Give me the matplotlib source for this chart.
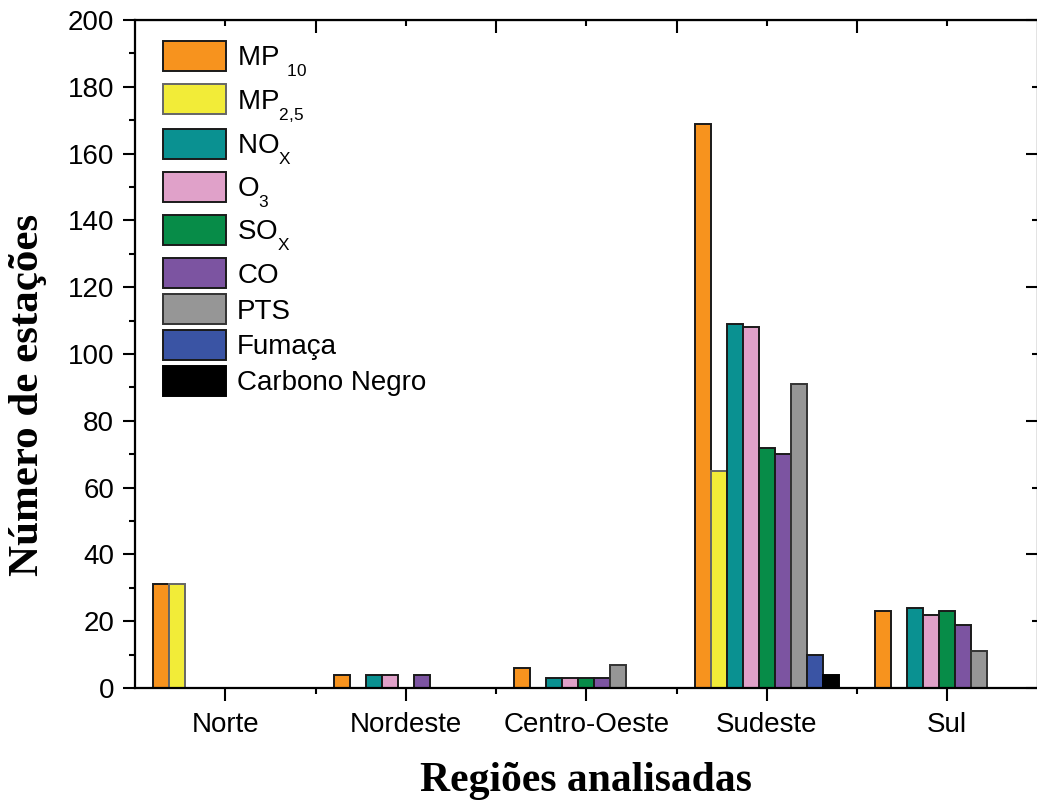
import matplotlib
matplotlib.use("Agg")
import matplotlib.pyplot as plt
import numpy as np
from matplotlib.ticker import FixedLocator, MultipleLocator

# lower, smaller subscripts (closer to the reference legend look)
try:
    import matplotlib._mathtext as _mt
    _mt.FontConstantsBase.sub1 = 0.75
    _mt.SHRINK_FACTOR = 0.62
except Exception:
    pass

plt.rcParams['font.family'] = ['Liberation Sans', 'DejaVu Sans']
plt.rcParams['mathtext.fontset'] = 'custom'
plt.rcParams['mathtext.rm'] = 'Liberation Sans'
plt.rcParams['mathtext.it'] = 'Liberation Sans:italic'
plt.rcParams['mathtext.bf'] = 'Liberation Sans:bold'

regions = ['Norte', 'Nordeste', 'Centro-Oeste', 'Sudeste', 'Sul']
series_names = [r'MP $\mathregular{_{10}}$', r'MP$\mathregular{_{2{,}5}}$', r'NO$\mathregular{_X}$',
                r'O$\mathregular{_3}$', r'SO$\mathregular{_X}$', 'CO', 'PTS', 'Fumaça', 'Carbono Negro']

mp10 = [31, 4, 6, 169, 23]
mp25 = [31, 0, 0, 65, 0]
nox = [0, 4, 3, 109, 24]
o3 = [0, 4, 3, 108, 22]
sox = [0, 0, 3, 72, 23]
co = [0, 4, 3, 70, 19]
pts = [0, 0, 7, 91, 11]
fumaca = [0, 0, 0, 10, 0]
carbono = [0, 0, 0, 4, 0]

series = [mp10, mp25, nox, o3, sox, co, pts, fumaca, carbono]
colors = ['#F7931E', '#F2EC38', '#0A9191', '#E0A1C9', '#078C48', '#7C54A1', '#969696', '#3A54A4', '#000000']
edges = ['#1a1a1a', '#666666', '#1a1a1a', '#1a1a1a', '#1a1a1a', '#1a1a1a', '#333333', '#1a1a1a', '#000000']

fig = plt.figure(figsize=(10.37, 8.01), dpi=100)
ax = fig.add_axes([135/1037, 113/801, 902.5/1037, 668/801])

x = np.arange(1, len(regions) + 1)
n = len(series)
w = 0.8 / n
for j, (vals, name, c, ec) in enumerate(zip(series, series_names, colors, edges)):
    vals = np.array(vals, dtype=float)
    pos = x + (j - (n - 1) / 2) * w
    mask = vals > 0
    ax.bar(pos[mask], vals[mask], width=w, color=c, edgecolor=ec, linewidth=1.4, label=name)

ax.set_xlim(0.5, 5.5)
ax.set_ylim(0, 200)
ax.set_xticks(x)
ax.set_xticklabels(regions)
ax.xaxis.set_minor_locator(FixedLocator(np.arange(1.5, 5.5, 1)))
ax.yaxis.set_major_locator(MultipleLocator(20))
ax.yaxis.set_minor_locator(MultipleLocator(10))

for s in ax.spines.values():
    s.set_linewidth(1.6)

ax.tick_params(axis='both', which='major', direction='out', length=9, width=1.5, labelsize=20, pad=6)
ax.tick_params(axis='x', which='major', pad=8)
ax.tick_params(axis='both', which='minor', direction='out', length=4.5, width=1.5)
ax.tick_params(top=False, right=False, which='both')

# top ticks (inward)
secx = ax.secondary_xaxis('top')
secx.set_xticks(np.arange(1.5, 5.5, 1))
secx.xaxis.set_minor_locator(FixedLocator(x))
secx.tick_params(which='major', direction='in', length=9, width=1.5, labeltop=False)
secx.tick_params(which='minor', direction='in', length=4.5, width=1.5)
secx.set_xticklabels([])

# right ticks (inward)
secy = ax.secondary_yaxis('right')
secy.set_yticks(np.arange(0, 201, 40))
secy.yaxis.set_minor_locator(FixedLocator(np.arange(20, 200, 40)))
secy.tick_params(which='major', direction='in', length=9, width=1.5, labelright=False)
secy.tick_params(which='minor', direction='in', length=4.5, width=1.5)
secy.set_yticklabels([])

lab_font = {'family': ['Liberation Serif', 'DejaVu Serif'], 'weight': 'bold', 'size': 31}
ax.set_xlabel('Regiões analisadas', fontdict=dict(lab_font, size=30))
ax.set_ylabel('Número de estações', fontdict=lab_font)
ax.xaxis.set_label_coords(0.5, -0.111)
ax.yaxis.set_label_coords(-0.097, 0.439)

ax.legend(loc='upper left', bbox_to_anchor=((163 - 135) / 902, (688 - 41) / 668),
          frameon=False, fontsize=20, handlelength=2.25, handleheight=1.28,
          handletextpad=0.42, labelspacing=0.2, borderpad=0, borderaxespad=0)

fig.savefig('out.png', dpi=100)
